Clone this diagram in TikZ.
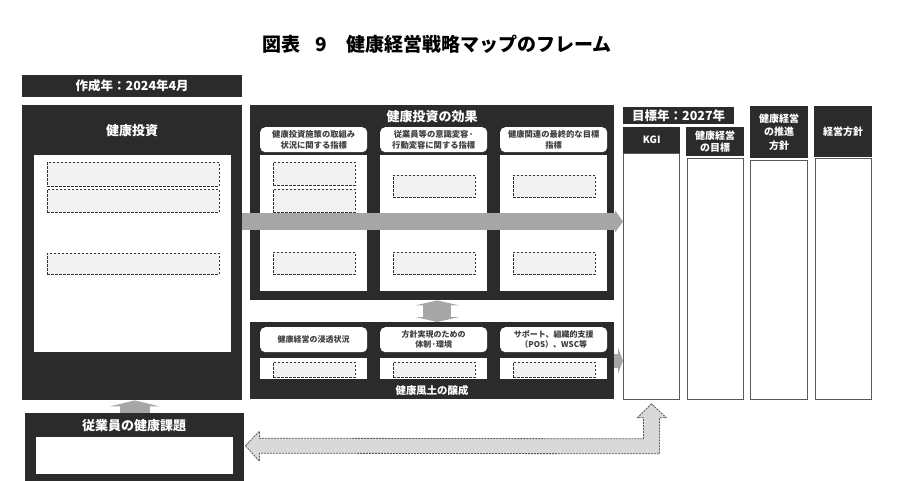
\documentclass[tikz,border=0pt]{standalone}
\usepackage{fontspec}
\setmainfont{Noto Sans CJK JP}
\usepackage{tikz}
\usetikzlibrary{arrows.meta, calc}
\definecolor{panelgray}{HTML}{2B2B2B}
\definecolor{slotgray}{HTML}{F2F2F2}
\definecolor{flowgray}{HTML}{A6A6A6}
\definecolor{loopgray}{HTML}{D9D9D9}
\definecolor{inkgray}{HTML}{404040}
\tikzset{
  panel/.style={fill=panelgray, inner sep=0pt, anchor=north west, text=white, align=center},
  sheet/.style={fill=white, inner sep=0pt, anchor=north west},
  column/.style={sheet, draw=black!65, line width=0.8pt},
  slotbox/.style={fill=slotgray, draw=black!80, dash pattern=on 2.5pt off 1.5pt, line width=0.8pt, inner sep=0pt, anchor=north west},
  tab/.style={fill=white, rounded corners=5pt, inner sep=0pt, anchor=north west, align=center, text=inkgray, font=\fontsize{8.3}{11.5}\selectfont\bfseries},
  headtext/.style={text=white, align=center, font=\fontsize{13}{15}\selectfont\bfseries},
  colhead/.style={panel, font=\fontsize{10}{13}\selectfont\bfseries},
  flow/.style={draw=flowgray, line width=#1},
}
\begin{document}
\begin{tikzpicture}[x=1pt, y=-1pt]
\useasboundingbox (0,0) rectangle (904,481);
\node[font=\fontsize{19}{21}\selectfont\bfseries, text=black] (title) at (437,44) {図表\hspace{0.8em}9\hspace{1em}健康経営戦略マップのフレーム};
\node[panel, minimum width=220pt, minimum height=22pt, font=\fontsize{12.5}{14}\selectfont\bfseries] (year) at (22,75) {作成年：2024年4月};

\node[panel, minimum width=220pt, minimum height=295pt] (invest) at (22,105) {};
\node[headtext] (invest title) at (132,131) {健康投資};
\node[sheet, minimum width=197pt, minimum height=197pt] (invest sheet) at (34,155) {};
\node[slotbox, minimum width=172pt, minimum height=24pt] (invest slot1) at (47,162) {};
\node[slotbox, minimum width=172pt, minimum height=23pt] (invest slot2) at (47,189) {};
\node[slotbox, minimum width=172pt, minimum height=21pt] (invest slot3) at (47,253) {};

\node[panel, minimum width=364pt, minimum height=195pt] (effect) at (250,105) {};
\node[headtext] (effect title) at (432,117) {健康投資の効果};
\foreach \x/\label [count=\i] in {260/{健康投資施策の取組み\\状況に関する指標}, 380/{従業員等の意識変容·\\行動変容に関する指標}, 500/{健康関連の最終的な目標\\指標}} {
  \node[tab, minimum width=107pt, minimum height=25pt] (effect tab\i) at (\x,127) {\label};
  \node[sheet, minimum width=107pt, minimum height=136pt] (effect sheet\i) at (\x,155) {};
  \node[slotbox, minimum width=82pt, minimum height=22pt] (effect slot\i) at ($(\x,252)+(13,0)$) {};
}
\node[slotbox, minimum width=82pt, minimum height=23pt] (effect slot1a) at (273,162) {};
\node[slotbox, minimum width=82pt, minimum height=23pt] (effect slot1b) at (273,189) {};
\node[slotbox, minimum width=82pt, minimum height=22pt] (effect slot2a) at (393,175) {};
\node[slotbox, minimum width=82pt, minimum height=22pt] (effect slot3a) at (513,175) {};

\node[panel, minimum width=364pt, minimum height=77pt] (culture) at (250,322) {};
\foreach \x/\label [count=\i] in {260/{健康経営の浸透状況}, 380/{方針実現のための\\体制·環境}, 500/{サポート、組織的支援\\（POS）、WSC等}} {
  \node[tab, minimum width=107pt, minimum height=25pt, font=\fontsize{8}{10}\selectfont\bfseries] (culture tab\i) at (\x,327) {\label};
  \node[sheet, minimum width=107pt, minimum height=21pt] (culture sheet\i) at (\x,358) {};
  \node[slotbox, minimum width=82pt, minimum height=15pt] (culture slot\i) at ($(\x,362)+(13,0)$) {};
}
\node[text=white, font=\fontsize{10.4}{12}\selectfont\bfseries] (culture title) at (432,391) {健康風土の醸成};

\node[panel, minimum width=111pt, minimum height=17pt, font=\fontsize{12.5}{14}\selectfont\bfseries] (target) at (623,107) {目標年：2027年};
\node[colhead, minimum width=57pt, minimum height=26pt] (kgi head) at (623,127) {KGI};
\node[colhead, minimum width=58pt, minimum height=29pt, font=\fontsize{10}{12.5}\selectfont\bfseries] (goal head) at (686,127) {健康経営\\の目標};
\node[colhead, minimum width=58pt, minimum height=52pt, font=\fontsize{10}{13.5}\selectfont\bfseries] (promo head) at (750,106) {健康経営\\の推進\\方針};
\node[colhead, minimum width=58pt, minimum height=51pt] (policy head) at (814,106) {経営方針};
\node[column, minimum width=56pt, minimum height=246pt] (kgi body) at (623,153) {};
\node[column, minimum width=56pt, minimum height=241pt] (goal body) at (687,158) {};
\node[column, minimum width=57pt, minimum height=239pt] (promo body) at (750,160) {};
\node[column, minimum width=56pt, minimum height=241pt] (policy body) at (815,158) {};

\node[panel, minimum width=219pt, minimum height=68pt] (staff) at (25,413) {};
\node[headtext] (staff title) at (134,426) {従業員の健康課題};
\node[sheet, minimum width=197pt, minimum height=37pt] (staff sheet) at (36,437) {};

\coordinate (flowrow) at (0,221.5);
\draw[flow=17pt, -{Triangle[length=8pt, width=22pt]}] (invest.east |- flowrow) -- (kgi body.west |- flowrow);
\draw[flow=14pt, -{Triangle[length=5pt, width=26pt]}] (culture.east) -- (culture.east -| kgi body.west);
\draw[flow=28pt, {Triangle[length=5pt, width=44pt]}-{Triangle[length=5pt, width=44pt]}] ($(effect.south)+(5,0)$) -- ($(culture.north)+(5,0)$);
\draw[flow=30pt, -{Triangle[length=6pt, width=50pt]}] (staff.north) -- (staff.north |- invest.south);

\coordinate (loopL) at ($(staff.east)+(1,-1.5)$);
\coordinate (loopR) at ($(kgi body.south)+(0,4)$);
\draw[fill=loopgray, draw=black!65, dash pattern=on 2pt off 1pt, line width=0.8pt]
  (loopL) -- ++(14,-14.5) -- ++(0,7) -- ($(loopR)+(-8,35)$) -- ($(loopR)+(-8,14)$)
  -- ($(loopR)+(-14,14)$) -- (loopR) -- ($(loopR)+(15,14)$) -- ($(loopR)+(8,14)$)
  -- ($(loopR)+(8,50)$) -- ($(loopL)+(14,7.5)$) -- ++(0,8) -- cycle;
\end{tikzpicture}
\end{document}
